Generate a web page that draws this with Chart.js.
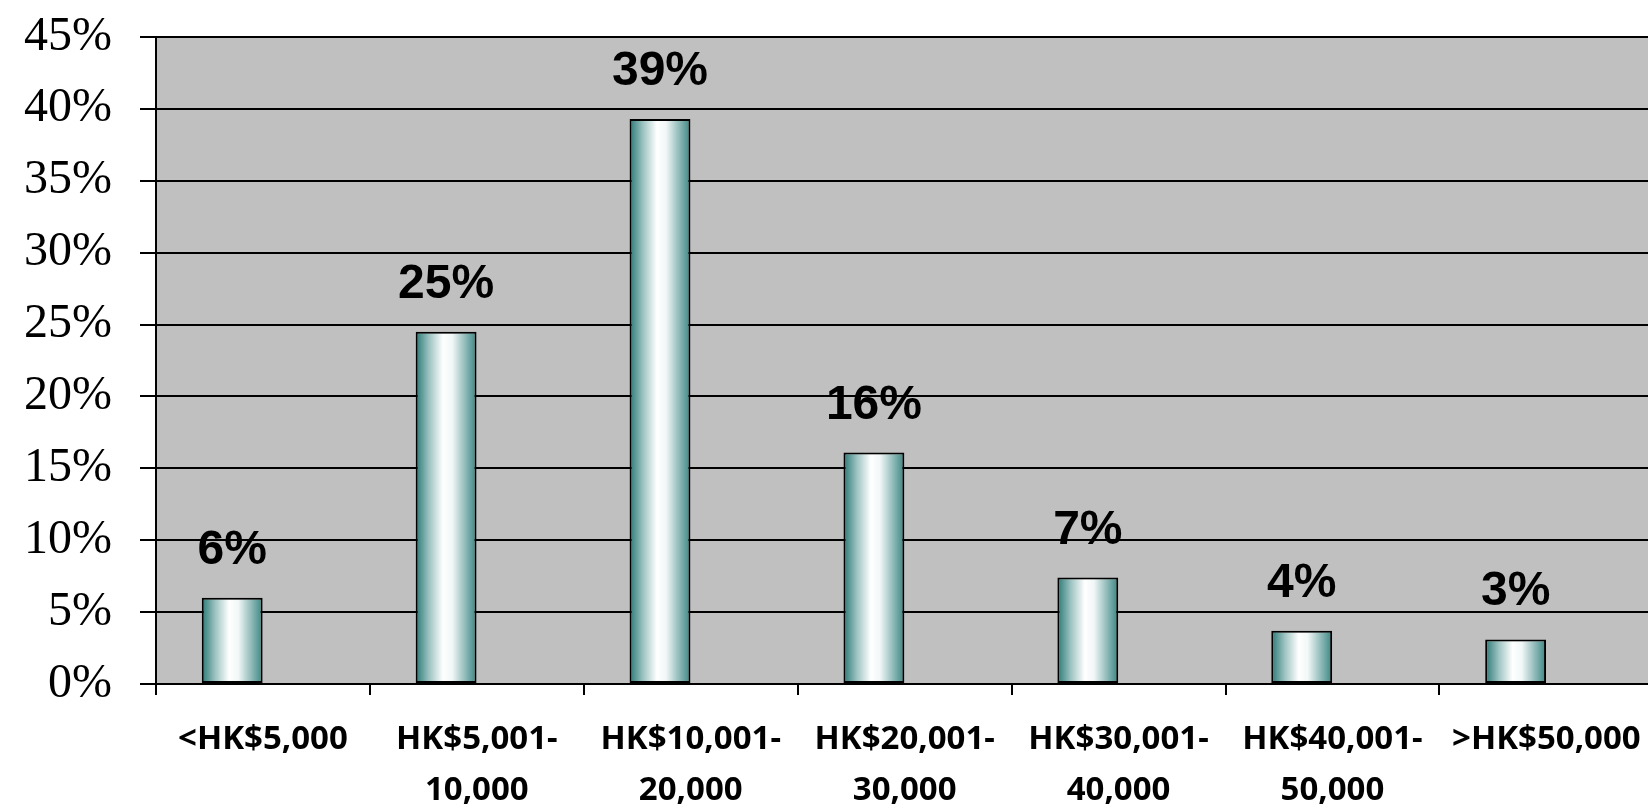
<!DOCTYPE html>
<html>
<head>
<meta charset="utf-8">
<title>Monthly income distribution</title>
<script src="https://cdn.jsdelivr.net/npm/chart.js@4/dist/chart.umd.min.js"></script>
<style>
    html, body { margin: 0; padding: 0; background: #fff; overflow: hidden; }
    #wrap { width: 1660px; height: 808px; }
</style>
</head>
<body>
<div id="wrap"><canvas id="incomeChart" width="1660" height="808"></canvas></div>
<script>
// Chart data
const categories = [
    '<HK$5,000',
    ['HK$5,001-', '10,000'],
    ['HK$10,001-', '20,000'],
    ['HK$20,001-', '30,000'],
    ['HK$30,001-', '40,000'],
    ['HK$40,001-', '50,000'],
    '>HK$50,000'
];
const shares = [6.0, 24.5, 39.3, 16.1, 7.4, 3.7, 3.1];
const shareLabels = ['6%', '25%', '39%', '16%', '7%', '4%', '3%'];
// second series is empty, it only reserves the slot to the right of each bar
const emptySeries = [null, null, null, null, null, null, null];
const yTicks = [0, 5, 10, 15, 20, 25, 30, 35, 40, 45];

const CAT_PCT = 0.575;
const BAR_PCT = 0.99;

// Horizontal teal-white-teal shading, computed from the x scale
function barGradient(context) {
    const chart = context.chart;
    const xs = chart.scales.x;
    if (!xs || !chart.chartArea) return '#2d7c79';
    const catW = xs.width / categories.length;
    const slot = catW * CAT_PCT / 2;
    const cx = xs.getPixelForValue(context.dataIndex) - slot / 2;
    const half = slot * BAR_PCT / 2;
    const g = chart.ctx.createLinearGradient(cx - half, 0, cx + half, 0);
    g.addColorStop(0, '#2a7875');
    g.addColorStop(0.22, '#9cc3c1');
    g.addColorStop(0.45, '#ffffff');
    g.addColorStop(0.6, '#f2f7f7');
    g.addColorStop(1, '#3a8683');
    return g;
}

// Grey plot background
const plotBackground = {
    id: 'plotBackground',
    beforeDraw(chart) {
        const { ctx, chartArea: a } = chart;
        ctx.save();
        ctx.fillStyle = '#c0c0c0';
        ctx.fillRect(a.left, a.top, a.right - a.left, a.bottom - a.top);
        ctx.restore();
    }
};

// Value labels above bars
const valueLabels = {
    id: 'valueLabels',
    afterDatasetsDraw(chart) {
        const ctx = chart.ctx;
        const meta = chart.getDatasetMeta(0);
        ctx.save();
        ctx.font = 'bold 48px "Liberation Sans", Arial, sans-serif';
        ctx.fillStyle = '#000';
        ctx.textAlign = 'center';
        ctx.textBaseline = 'alphabetic';
        meta.data.forEach((bar, i) => {
            ctx.fillText(shareLabels[i], bar.x, bar.y - 34);
        });
        ctx.restore();
    }
};

new Chart(document.getElementById('incomeChart'), {
    type: 'bar',
    data: {
        labels: categories,
        datasets: [{
            data: shares,
            backgroundColor: barGradient,
            borderColor: '#000',
            borderWidth: 2,
            borderSkipped: false,
            categoryPercentage: CAT_PCT,
            barPercentage: BAR_PCT
        }, {
            data: emptySeries,
            backgroundColor: '#2d7c79',
            categoryPercentage: CAT_PCT,
            barPercentage: BAR_PCT
        }]
    },
    options: {
        responsive: false,
        animation: false,
        layout: { padding: { top: 37, right: 4, left: 0, bottom: 0 } },
        plugins: {
            legend: { display: false },
            tooltip: { enabled: false }
        },
        scales: {
            x: {
                offset: true,
                grid: {
                    offset: true,
                    drawOnChartArea: false,
                    color: '#000',
                    lineWidth: 2,
                    tickLength: 11
                },
                border: { color: '#000', width: 2 },
                ticks: {
                    autoSkip: false,
                    maxRotation: 0,
                    padding: 19,
                    color: '#000',
                    font: { family: '"Noto Sans", sans-serif', size: 33, weight: 'bold', lineHeight: 1.55 }
                },
                afterFit(scale) { scale.height = 124; }
            },
            y: {
                min: 0,
                max: 45,
                afterBuildTicks(scale) {
                    scale.ticks = yTicks.map(v => ({ value: v }));
                },
                grid: {
                    color: '#000',
                    lineWidth: 2,
                    tickLength: 16
                },
                border: { color: '#000', width: 2 },
                ticks: {
                    padding: 28,
                    color: '#000',
                    font: { family: '"Liberation Serif", serif', size: 48 },
                    callback: v => v + '%'
                },
                afterFit(scale) {
                    scale.width = 156;
                    scale.paddingTop = 0;
                    scale.paddingBottom = 0;
                }
            }
        }
    },
    plugins: [plotBackground, valueLabels]
});
</script>
</body>
</html>
